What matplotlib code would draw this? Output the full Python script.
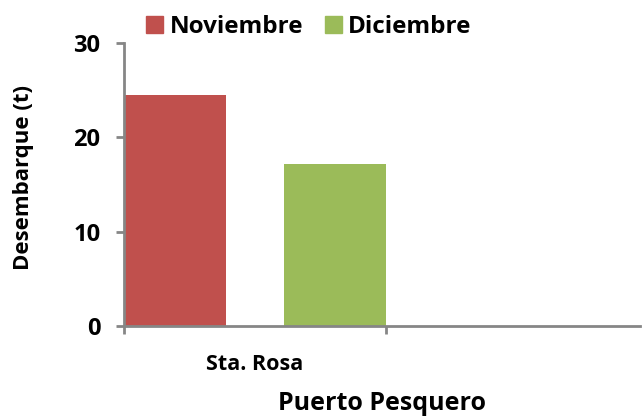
import numpy as np
import matplotlib.pyplot as plt
from matplotlib.patches import Patch

# data
series = ['Noviembre', 'Diciembre']
values = [24.5, 17.2]
colors = ['#C0504D', '#9BBB59']
categories = ['Sta. Rosa', '']

plt.rcParams['font.family'] = ['Open Sans', 'DejaVu Sans']
plt.rcParams['font.weight'] = 'bold'

fig = plt.figure(figsize=(6.42, 4.19), dpi=100)
ax = fig.add_axes([0.193, 0.222, 0.804, 0.675])

# bars sit at the two edges of the first category
bw = 0.39
offsets = [-0.5 + bw / 2, 0.5 - bw / 2]
for off, v, c, name in zip(offsets, values, colors, series):
    ax.bar(0 + off, v, width=bw, color=c, label=name)

ax.set_xlim(-0.5, len(categories) - 0.53)
ax.set_ylim(0, 30)
ax.set_yticks([0, 10, 20, 30])
ax.set_xticks(np.arange(len(categories)))
ax.set_xticklabels(categories)
ax.set_xticks(np.arange(len(categories)) - 0.5, minor=True)
ax.tick_params(axis='x', which='major', length=0, pad=20, labelsize=15.5)
ax.tick_params(axis='x', which='minor', length=6, width=2, color='#868686')
ax.tick_params(axis='y', length=6, width=2, color='#868686', labelsize=17, pad=11)

for s in ['top', 'right']:
    ax.spines[s].set_visible(False)
for s in ['left', 'bottom']:
    ax.spines[s].set_color('#868686')
    ax.spines[s].set_linewidth(2)

ax.set_ylabel('Desembarque (t)', fontsize=16, fontweight='bold', labelpad=28)
ax.yaxis.label.set_y(0.525)
ax.set_xlabel('Puerto Pesquero', fontsize=18, fontweight='bold', labelpad=12)

handles = [Patch(color=c, label=n) for c, n in zip(colors, series)]
fig.legend(handles=handles, loc='center', bbox_to_anchor=(0.481, 0.935), ncol=2,
           frameon=False, fontsize=17.5, handlelength=0.7, handleheight=0.7,
           handletextpad=0.25, columnspacing=0.9)

fig.savefig('out.png', dpi=100)
